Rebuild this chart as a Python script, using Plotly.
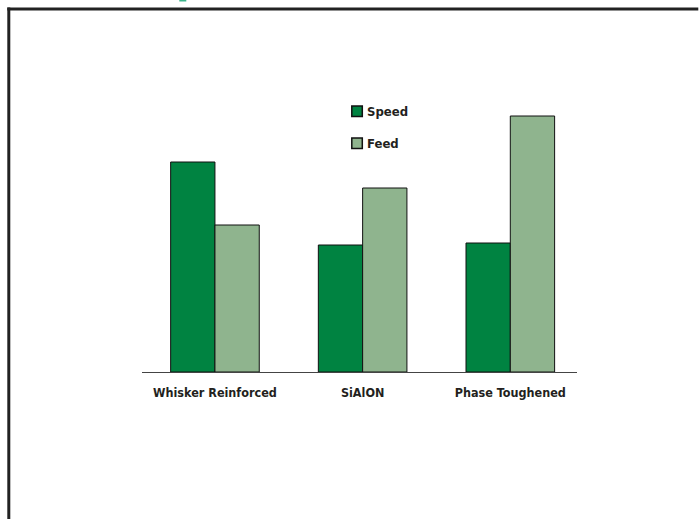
import plotly.graph_objects as go

categories = ["Whisker Reinforced", "SiAlON", "Phase Toughened"]
series_names = ["Speed", "Feed"]
speed_values = [210, 127, 129]
feed_values = [147, 184, 256]
colors = ["#008341", "#8fb48e"]

FONT = "DejaVu Sans Condensed, Liberation Sans Narrow, sans-serif"

fig = go.Figure()
for name, vals, col in zip(series_names, [speed_values, feed_values], colors):
    fig.add_trace(go.Bar(
        x=categories, y=vals, name=name,
        marker=dict(color=col, line=dict(color="#111111", width=1)),
    ))

# plot area: x 141.7..576.7 px, y 40..372 px
L, R, T, B = 141.7, 576.7, 40.0, 372.0
W, H = R - L, B - T

def px(x):
    return (x - L) / W

def py(y):
    return (B - y) / H

shapes = [
    dict(type="line", xref="paper", yref="paper",
         x0=px(7), x1=px(698), y0=py(9), y1=py(9),
         line=dict(color="#222222", width=3), layer="above"),
    dict(type="line", xref="paper", yref="paper",
         x0=px(8.5), x1=px(8.5), y0=py(7.5), y1=py(519),
         line=dict(color="#222222", width=3), layer="above"),
    dict(type="rect", xref="paper", yref="paper",
         x0=px(179), x1=px(186), y0=py(1.5), y1=py(0),
         line=dict(width=0), fillcolor="#3cb48c"),
]
annotations = []
# manual legend
leg_y = [111.5, 143.5]
for name, col, yc in zip(series_names, colors, leg_y):
    shapes.append(dict(type="rect", xref="paper", yref="paper",
                       x0=px(351.5), x1=px(362), y0=py(yc - 5.5), y1=py(yc + 5),
                       line=dict(color="#111111", width=1.5), fillcolor=col))
    annotations.append(dict(xref="paper", yref="paper", x=px(365), y=py(yc),
                            xanchor="left", yanchor="middle", text=name,
                            showarrow=False,
                            font=dict(family=FONT, size=13, color="#231f20", weight="bold")))

fig.update_layout(
    width=699, height=520,
    margin=dict(l=L, r=699 - R, t=T, b=520 - B, pad=0),
    paper_bgcolor="white", plot_bgcolor="white",
    barmode="group", bargap=0.4, bargroupgap=0,
    font=dict(family=FONT, size=13, color="#231f20"),
    showlegend=False,
    xaxis=dict(
        type="category", range=[-0.494, 2.4516],
        showline=True, linecolor="#444444", linewidth=1,
        showgrid=False, zeroline=False,
        ticks="outside", ticklen=9, tickcolor="rgba(0,0,0,0)",
        tickfont=dict(family=FONT, size=12.5, color="#231f20", weight="bold"),
    ),
    yaxis=dict(
        range=[0, H], showgrid=False, zeroline=False,
        showline=False, showticklabels=False,
    ),
    shapes=shapes,
    annotations=annotations,
)

fig.write_html("out.html", config={"displayModeBar": False})
